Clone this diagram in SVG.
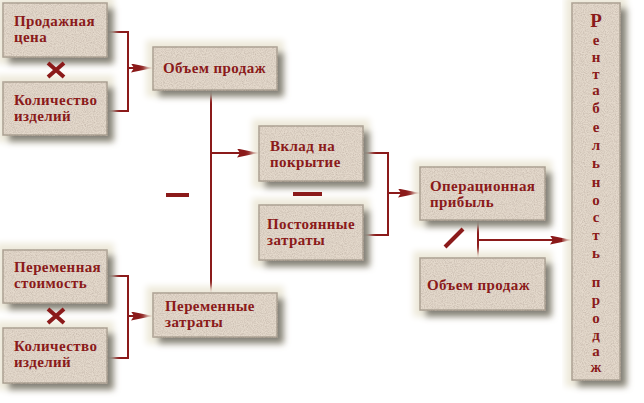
<svg xmlns="http://www.w3.org/2000/svg" width="644" height="403" viewBox="0 0 644 403">
<defs>
<filter id="box" x="-20%" y="-30%" width="150%" height="170%">
<feMorphology in="SourceAlpha" operator="dilate" radius="6" result="halo0"/>
<feGaussianBlur in="halo0" stdDeviation="3" result="halo1"/>
<feFlood flood-color="#eeeadb" result="hc"/>
<feComposite in="hc" in2="halo1" operator="in" result="halo"/>
<feGaussianBlur in="SourceAlpha" stdDeviation="3" result="sb"/>
<feOffset in="sb" dx="6" dy="6" result="so"/>
<feFlood flood-color="#2a2418" flood-opacity="0.75" result="sc"/>
<feComposite in="sc" in2="so" operator="in" result="shadow"/>
<feTurbulence type="fractalNoise" baseFrequency="0.9" numOctaves="2" seed="3" result="noise"/>
<feColorMatrix in="noise" type="matrix" values="0 0 0 0 0.55  0 0 0 0 0.47  0 0 0 0 0.40  0 0 0 -1.6 1.05" result="nz"/>
<feComposite in="nz" in2="SourceAlpha" operator="in" result="nzc"/>
<feMerge><feMergeNode in="halo"/><feMergeNode in="shadow"/><feMergeNode in="SourceGraphic"/><feMergeNode in="nzc"/></feMerge>
</filter>
<marker id="arr" markerUnits="userSpaceOnUse" markerWidth="24" markerHeight="10" refX="22" refY="4.5" orient="auto">
<path d="M0,0 L22,4.5 L0,9 L3,4.5 z" fill="#8b1a1a"/>
</marker>
<style>
.b{fill:#e4d9cc;stroke:#a59a8c;stroke-width:1.5;filter:url(#box)}
.t{font-family:"Liberation Serif","DejaVu Serif",serif;font-weight:bold;font-size:15px;fill:#8b1a1a;letter-spacing:0.4px}
.v{font-family:"Liberation Serif","DejaVu Serif",serif;font-weight:bold;font-size:15px;fill:#8b1a1a;text-anchor:middle}
.c{fill:none;stroke:#8b1a1a;stroke-width:2}
.m{stroke:#8b1a1a;stroke-width:4;fill:none}
</style>
</defs>
<rect width="644" height="403" fill="#ffffff"/>

<g id="connectors">
<path class="c" d="M107,32 H128 V111 H107"/>
<path class="c" d="M128,68 H153" marker-end="url(#arr)"/>
<path class="c" d="M107,276 H128 V358 H107"/>
<path class="c" d="M128,316 H153" marker-end="url(#arr)"/>
<path class="c" d="M211,90 V293"/>
<path class="c" d="M211,153 H259" marker-end="url(#arr)"/>
<path class="c" d="M363,153 H388 V235 H363"/>
<path class="c" d="M388,193 H420" marker-end="url(#arr)"/>
<path class="c" d="M478,220 V258"/>
<path class="c" d="M478,240 H572" marker-end="url(#arr)"/>
</g>

<g id="n1"><rect class="b" x="3" y="3" width="104" height="54"/><text class="t" x="14" y="26">Продажная</text><text class="t" x="14" y="42">цена</text></g>
<g id="n2"><rect class="b" x="3" y="82" width="104" height="53"/><text class="t" x="14" y="105">Количество</text><text class="t" x="14" y="121">изделий</text></g>
<g id="n3"><rect class="b" x="153" y="47" width="124" height="43"/><text class="t" x="163" y="73">Объем  продаж</text></g>
<g id="n4"><rect class="b" x="259" y="126" width="104" height="55"/><text class="t" x="270" y="151">Вклад  на</text><text class="t" x="270" y="167">покрытие</text></g>
<g id="n5"><rect class="b" x="259" y="205" width="104" height="55"/><text class="t" x="267" y="229">Постоянные</text><text class="t" x="267" y="245">затраты</text></g>
<g id="n6"><rect class="b" x="420" y="167" width="125" height="53"/><text class="t" x="430" y="191">Операционная</text><text class="t" x="430" y="207">прибыль</text></g>
<g id="n7"><rect class="b" x="420" y="258" width="125" height="52"/><text class="t" x="427" y="290">Объем  продаж</text></g>
<g id="n8"><rect class="b" x="3" y="250" width="104" height="53"/><text class="t" x="14" y="272">Переменная</text><text class="t" x="14" y="288">стоимость</text></g>
<g id="n9"><rect class="b" x="3" y="328" width="104" height="55"/><text class="t" x="14" y="351">Количество</text><text class="t" x="14" y="367">изделий</text></g>
<g id="n10"><rect class="b" x="153" y="293" width="124" height="44"/><text class="t" x="165" y="311">Переменные</text><text class="t" x="165" y="327">затраты</text></g>
<g id="n11"><rect class="b" x="572" y="3" width="48" height="377"/>
<text class="v"><tspan x="596" y="27" font-size="19">Р</tspan><tspan x="596" y="45">е</tspan><tspan x="596" y="62">н</tspan><tspan x="596" y="79">т</tspan><tspan x="596" y="95">а</tspan><tspan x="596" y="113">б</tspan><tspan x="596" y="132">е</tspan><tspan x="596" y="150">л</tspan><tspan x="596" y="168">ь</tspan><tspan x="596" y="187">н</tspan><tspan x="596" y="205">о</tspan><tspan x="596" y="222">с</tspan><tspan x="596" y="240">т</tspan><tspan x="596" y="258">ь</tspan><tspan x="596" y="287">п</tspan><tspan x="596" y="305">р</tspan><tspan x="596" y="323">о</tspan><tspan x="596" y="340">д</tspan><tspan x="596" y="356">а</tspan><tspan x="596" y="372">ж</tspan></text></g>

<g id="operators">
<path class="m" d="M48,63 L64,77 M64,63 L48,77"/>
<path class="m" d="M48,309 L64,323 M64,309 L48,323"/>
<path class="m" d="M166,195 H189"/>
<path class="m" d="M293,194 H322"/>
<path class="m" d="M445,247 L463,229"/>
</g>
</svg>
